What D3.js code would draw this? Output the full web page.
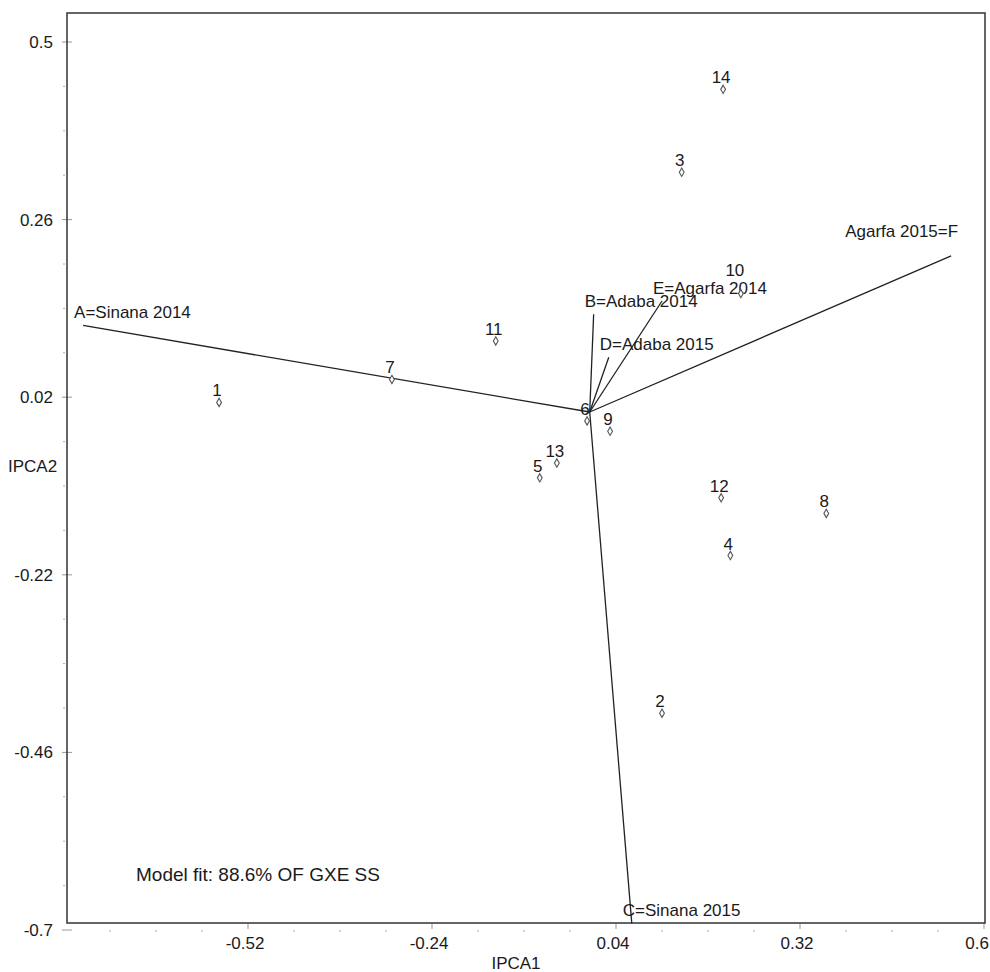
<!DOCTYPE html>
<html><head><meta charset="utf-8">
<script src="https://cdn.jsdelivr.net/npm/d3@7"></script>
<style>body{margin:0;background:#fff}svg{display:block}text{font-family:"Liberation Sans",Arial,sans-serif;fill:#1a1a1a}</style>
</head><body><svg id="c" width="990" height="972"></svg>
<script>
// Genotypes
const genotypes = ["1","2","3","4","5","6","7","8","9","10","11","12","13","14"];
const genoIPCA1 = [-0.564, 0.110, 0.140, 0.214, -0.076, -0.004, -0.301, 0.360, 0.031, 0.230, -0.143, 0.200, -0.050, 0.203];
const genoIPCA2 = [0.013, -0.407, 0.324, -0.194, -0.089, -0.012, 0.044, -0.137, -0.026, 0.160, 0.096, -0.116, -0.069, 0.436];
// Environments (vectors)
const envLabels = ["A=Sinana 2014","B=Adaba 2014","C=Sinana 2015","D=Adaba 2015","E=Agarfa 2014","Agarfa 2015=F"];
const envIPCA1 = [-0.771, 0.006, 0.064, 0.029, 0.110, 0.550];
const envIPCA2 = [0.117, 0.132, -0.691, 0.074, 0.150, 0.211];
const xTicks = [-0.52, -0.24, 0.04, 0.32, 0.6];
const yTicks = [0.5, 0.26, 0.02, -0.22, -0.46, -0.7];
const modelFit = "Model fit: 88.6% OF GXE SS";

const svg = d3.select("#c");
const x = d3.scaleLinear().domain([-0.8, 0.6]).range([64, 984]);
const y = d3.scaleLinear().domain([-0.7, 0.5]).range([930, 42]);
const frame = {l:67, r:985, t:13, b:923};
const FS = 17;

// minor ticks
const xMinor = d3.range(-0.73, 0.6, 0.07).filter(v => !xTicks.some(t => Math.abs(t - v) < 1e-6));
const yMinor = d3.range(0.44, -0.71, -0.06).filter(v => !yTicks.some(t => Math.abs(t - v) < 1e-6));
const g = svg.append("g");
g.selectAll(".xmin").data(xMinor).join("line")
  .attr("x1", d => x(d)).attr("x2", d => x(d)).attr("y1", 930).attr("y2", 932)
  .attr("stroke", "#aaa").attr("stroke-width", 1);
g.selectAll(".xmaj").data(xTicks).join("line")
  .attr("x1", d => x(d)).attr("x2", d => x(d)).attr("y1", 923).attr("y2", 929)
  .attr("stroke", "#999").attr("stroke-width", 1);
g.selectAll(".ymin").data(yMinor).join("line")
  .attr("x1", 63).attr("x2", 65).attr("y1", d => y(d)).attr("y2", d => y(d))
  .attr("stroke", "#aaa").attr("stroke-width", 1);
g.selectAll(".ymaj").data(yTicks).join("line")
  .attr("x1", 62).attr("x2", 72).attr("y1", d => y(d)).attr("y2", d => y(d))
  .attr("stroke", "#999").attr("stroke-width", 1);

// tick labels
const fmt = d => String(d);
g.selectAll(".xl").data(xTicks).join("text")
  .attr("x", d => d === 0.6 ? 989 : x(d) - 3).attr("y", 949)
  .attr("text-anchor", d => d === 0.6 ? "end" : "middle")
  .attr("font-size", FS).text(d => fmt(d));
g.selectAll(".yl").data(yTicks).join("text")
  .attr("x", 53).attr("y", d => y(d) + 6).attr("text-anchor", "end")
  .attr("font-size", FS).text(d => fmt(d));

// frame
svg.append("rect").attr("x", frame.l).attr("y", frame.t)
  .attr("width", frame.r - frame.l).attr("height", frame.b - frame.t)
  .attr("fill", "none").attr("stroke", "#333").attr("stroke-width", 1.5);

// axis titles
svg.append("text").attr("x", 516).attr("y", 969).attr("text-anchor", "middle").attr("font-size", FS).text("IPCA1");
svg.append("text").attr("x", 8).attr("y", 472).attr("font-size", FS).text("IPCA2");

// vectors
const envs = envLabels.map((l, i) => ({l, x: envIPCA1[i], y: envIPCA2[i]}));
svg.selectAll(".vec").data(envs).join("line")
  .attr("x1", x(0)).attr("y1", y(0)).attr("x2", d => x(d.x)).attr("y2", d => y(d.y))
  .attr("stroke", "#222").attr("stroke-width", 1.3);
svg.selectAll(".vl").data(envs).join("text")
  .attr("x", d => d.l.endsWith("=F") ? x(d.x) + 7 : x(d.x) - 9)
  .attr("y", d => d.l.endsWith("=F") ? y(d.y) - 19 : y(d.y) - 7)
  .attr("text-anchor", d => d.l.endsWith("=F") ? "end" : "start")
  .attr("font-size", FS).text(d => d.l);

// genotypes
const genos = genotypes.map((l, i) => ({l, x: genoIPCA1[i], y: genoIPCA2[i]}));
svg.selectAll(".pt").data(genos).join("path")
  .attr("d", d3.symbol(d3.symbolDiamond, 20))
  .attr("transform", d => `translate(${x(d.x)},${y(d.y)})`)
  .attr("fill", "#fff").attr("stroke", "#555").attr("stroke-width", 1.1);
// label "10" is lifted to clear the E vector label (as in the original)
svg.selectAll(".pl").data(genos).join("text")
  .attr("x", d => x(d.x) - (d.l === "10" ? 6 : 2))
  .attr("y", d => y(d.y) - (d.l === "10" ? 18 : 6))
  .attr("text-anchor", "middle").attr("font-size", FS).text(d => d.l);

svg.append("text").attr("x", 136).attr("y", 881).attr("font-size", 19).text(modelFit);
</script></body></html>
